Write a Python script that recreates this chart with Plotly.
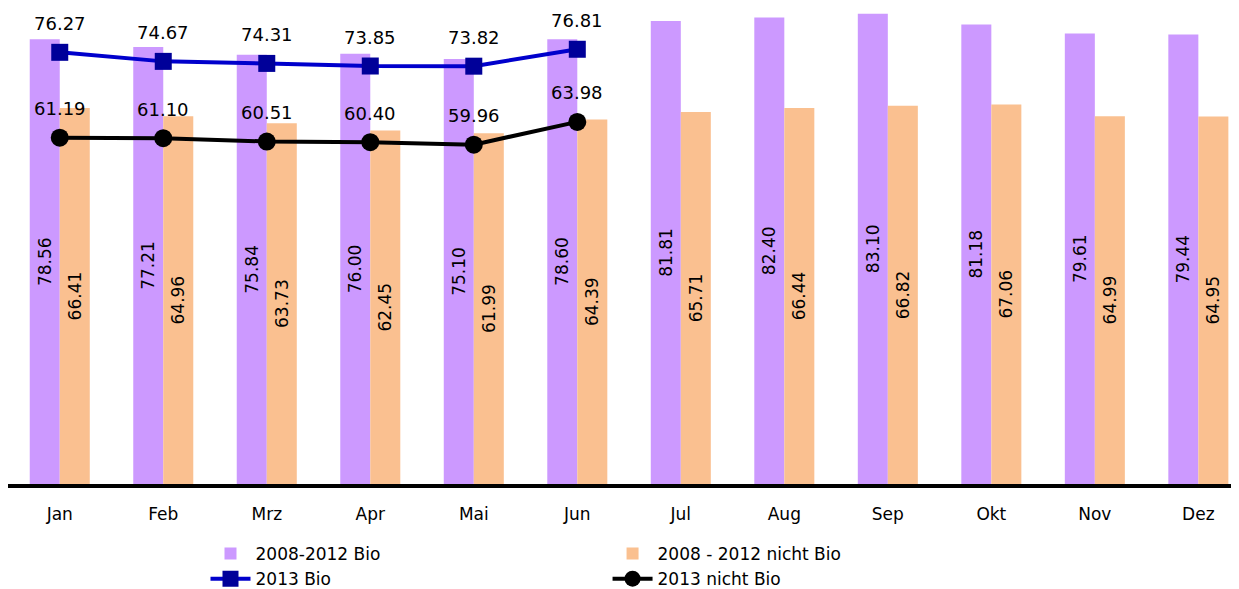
import plotly.graph_objects as go

months = ["Jan", "Feb", "Mrz", "Apr", "Mai", "Jun", "Jul", "Aug", "Sep", "Okt", "Nov", "Dez"]
bio_0812 = [78.56, 77.21, 75.84, 76.00, 75.10, 78.60, 81.81, 82.40, 83.10, 81.18, 79.61, 79.44]
nonbio_0812 = [66.41, 64.96, 63.73, 62.45, 61.99, 64.39, 65.71, 66.44, 66.82, 67.06, 64.99, 64.95]
bio_2013 = [76.27, 74.67, 74.31, 73.85, 73.82, 76.81]
nonbio_2013 = [61.19, 61.10, 60.51, 60.40, 59.96, 63.98]

FONT = "DejaVu Sans"
xs = list(range(len(months)))
xs13 = list(range(len(bio_2013)))

fig = go.Figure()
fig.add_trace(go.Bar(
    x=xs, y=bio_0812, name="2008-2012 Bio", marker=dict(color="#CC99FF", line=dict(width=0)),
    text=[f"{v:.2f}" for v in bio_0812], textposition="inside", textangle=-90,
    insidetextanchor="middle", textfont=dict(color="black", size=17, family=FONT),
    legend="legend",
))
fig.add_trace(go.Bar(
    x=xs, y=nonbio_0812, name="2008 - 2012 nicht Bio", marker=dict(color="#FAC090", line=dict(width=0)),
    text=[f"{v:.2f}" for v in nonbio_0812], textposition="inside", textangle=-90,
    insidetextanchor="middle", textfont=dict(color="black", size=17, family=FONT),
    legend="legend2",
))
fig.add_trace(go.Scatter(
    x=xs13, y=bio_2013, name="2013 Bio", mode="lines+markers",
    line=dict(color="#0000CC", width=4),
    marker=dict(symbol="square", size=17, color="#000099"),
    legend="legend",
))
fig.add_trace(go.Scatter(
    x=xs13, y=nonbio_2013, name="2013 nicht Bio", mode="lines+markers",
    line=dict(color="black", width=4),
    marker=dict(symbol="circle", size=18, color="black"),
    legend="legend2",
))

annotations = []
for series in (bio_2013, nonbio_2013):
    for x, v in zip(xs13, series):
        annotations.append(dict(
            x=x, y=v, xref="x", yref="y", text=f"{v:.2f}", showarrow=False,
            yshift=29, font=dict(size=18, color="black", family=FONT),
        ))

legend_common = dict(
    orientation="v", xanchor="left", yanchor="top", xref="paper", yref="paper",
    y=-0.1099, font=dict(size=17, family=FONT, color="black"), traceorder="normal",
    itemwidth=40, bgcolor="rgba(0,0,0,0)", borderwidth=0,
)

fig.update_layout(
    width=1239, height=589,
    margin=dict(l=0, r=0, t=0, b=113),
    paper_bgcolor="white", plot_bgcolor="white",
    barmode="group", bargap=0.42, bargroupgap=0,
    font=dict(family=FONT, size=16, color="black"),
    uniformtext=dict(minsize=17, mode="show"),
    annotations=annotations,
    showlegend=True,
    legend=dict(x=0.1594, **legend_common),
    legend2=dict(x=0.4839, **legend_common),
    xaxis=dict(
        range=[-0.5, 11.47], tickmode="array", tickvals=xs, ticktext=months,
        showgrid=False, zeroline=False, showline=True, linecolor="black", linewidth=4,
        ticks="", ticklabelstandoff=12, tickfont=dict(size=17, family=FONT, color="black"),
    ),
    yaxis=dict(range=[0, 84.1], visible=False, showgrid=False, zeroline=False),
)

fig.write_html("out.html")
